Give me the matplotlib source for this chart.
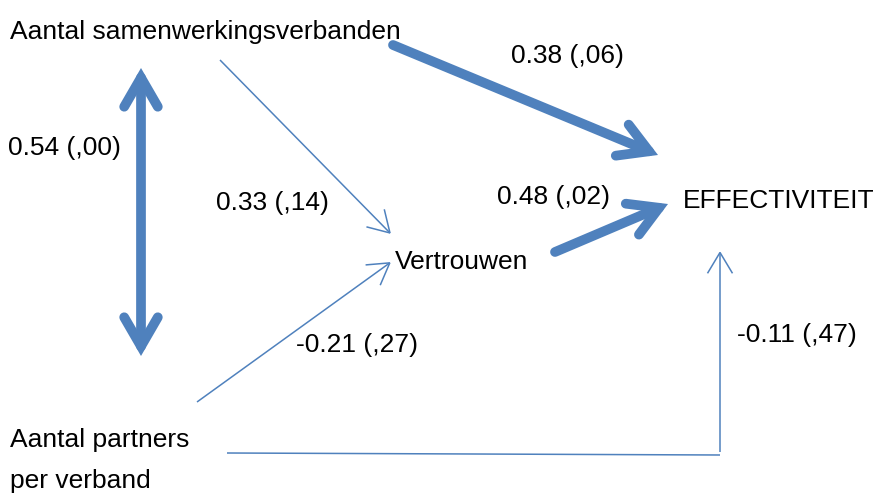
import matplotlib.pyplot as plt
from matplotlib.patches import FancyArrowPatch

plt.rcParams['font.family'] = ['Liberation Sans', 'DejaVu Sans']

blue = '#4F81BD'

# node labels: text, x, y (pixel positions of the diagram)
node_texts = ['Aantal samenwerkingsverbanden', 'Vertrouwen', 'EFFECTIVITEIT',
              'Aantal partners', 'per verband']
node_x = [10, 395, 683, 10, 10]
node_y = [32, 262, 201, 440, 481]

# path coefficients
coef_texts = ['0.38 (,06)', '0.54 (,00)', '0.33 (,14)', '0.48 (,02)',
              '-0.21 (,27)', '-0.11 (,47)']
coef_x = [511, 8, 216, 497, 296, 737]
coef_y = [56, 148, 203, 197, 345, 335]

# arrows: start, end, thick?, double?
arrow_start = [(141, 68), (393, 45), (555, 252), (220, 60), (197, 402), (720, 452)]
arrow_end = [(141, 356), (658, 155), (668, 204), (391, 234), (391, 262), (720, 251)]
arrow_thick = [True, True, True, False, False, False]
arrow_both = [True, False, False, False, False, False]

fig = plt.figure(figsize=(8.78, 4.93), dpi=100)
ax = fig.add_axes([0, 0, 1, 1])
ax.set_xlim(0, 878)
ax.set_ylim(493, 0)
ax.axis('off')

for (x0, y0), (x1, y1), thick, both in zip(arrow_start, arrow_end, arrow_thick, arrow_both):
    if thick:
        style = ('<->' if both else '->') + ',head_length=0.95,head_width=0.55'
        lw = 7
        ms = 22
        cap = 'round'
    else:
        style = '->,head_length=0.75,head_width=0.45'
        lw = 1.1
        ms = 20
        cap = 'butt'
    ax.add_patch(FancyArrowPatch((x0, y0), (x1, y1), arrowstyle=style,
                                 mutation_scale=ms, lw=lw, color=blue,
                                 joinstyle='miter', capstyle=cap,
                                 shrinkA=0, shrinkB=0))

# horizontal line from "Aantal partners" to the bottom corner
ax.plot([227, 720], [453, 455], color=blue, lw=1.1, solid_capstyle='butt')

for t, x, y in zip(node_texts, node_x, node_y):
    ax.text(x, y, t, fontsize=19, va='center', ha='left')
for t, x, y in zip(coef_texts, coef_x, coef_y):
    ax.text(x, y, t, fontsize=19, va='center', ha='left')

fig.savefig('out.png', dpi=100)
